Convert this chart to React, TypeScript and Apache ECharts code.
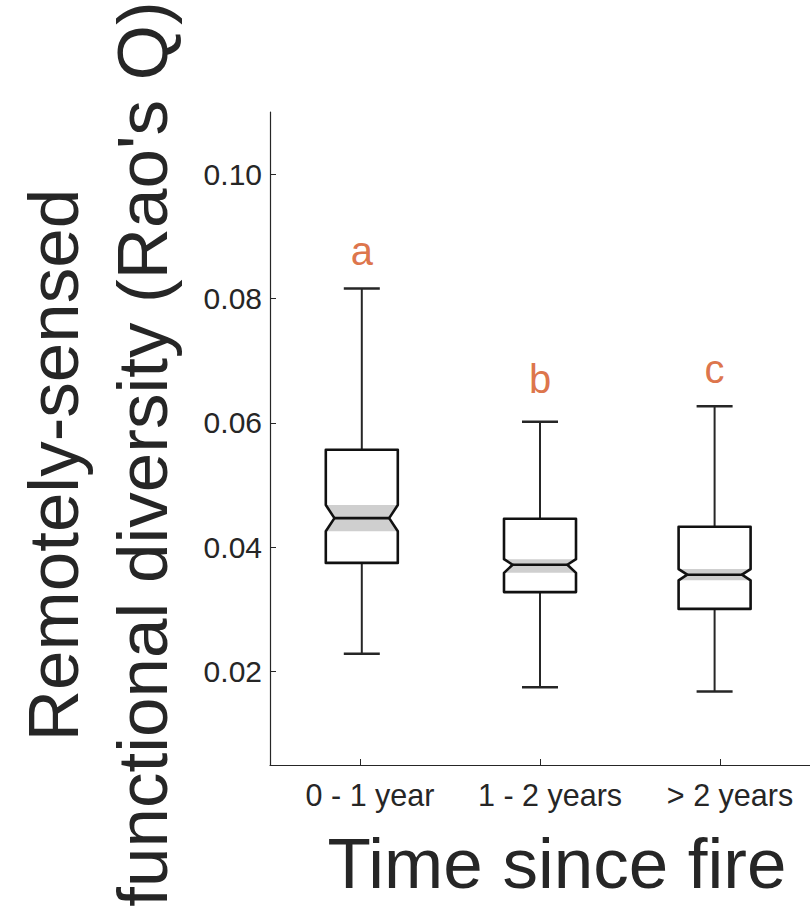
import React, { useEffect, useRef } from "react";
import * as echarts from "echarts";

const categories = ["0 - 1 year", "1 - 2 years", "> 2 years"];
const tickPositions = [1, 2, 3];
const boxPositions = [1.01, 2.0, 2.97];
const whiskerLow = [0.0229, 0.0175, 0.0168];
const q1 = [0.0375, 0.0328, 0.0301];
const notchLow = [0.0426, 0.0359, 0.0347];
const median = [0.0447, 0.0372, 0.0356];
const notchHigh = [0.0468, 0.0381, 0.0365];
const q3 = [0.0557, 0.0446, 0.0433];
const whiskerHigh = [0.0816, 0.0602, 0.0627];
const groupLetters = ["a", "b", "c"];
const letterY = [0.0877, 0.0671, 0.0687];
const yTicks = [0.02, 0.04, 0.06, 0.08, 0.1];

const FONT = '"Liberation Sans", Arial, Helvetica, sans-serif';
const INK = "#262626";

export default function App() {
  const ref = useRef<HTMLDivElement>(null);

  useEffect(() => {
    if (!ref.current) return;
    const chart = echarts.init(ref.current, null, { renderer: "svg" });

    const boxData = boxPositions.map((p, i) => [
      p,
      whiskerLow[i],
      q1[i],
      notchLow[i],
      median[i],
      notchHigh[i],
      q3[i],
      whiskerHigh[i],
    ]);
    const letterData = boxPositions.map((p, i) => [p, letterY[i], groupLetters[i]]);

    const halfW = 0.2;
    const notchIn = 0.048;
    const capW = 0.1;

    const renderItem = (params: any, api: any) => {
      const x = api.value(0);
      const wl = api.value(1);
      const b1 = api.value(2);
      const nl = api.value(3);
      const md = api.value(4);
      const nh = api.value(5);
      const b3 = api.value(6);
      const wh = api.value(7);
      const c = (xx: number, yy: number) => api.coord([xx, yy]);
      const L = x - halfW;
      const R = x + halfW;
      const Li = x - halfW + notchIn;
      const Ri = x + halfW - notchIn;
      const outline = [
        c(L, b3), c(R, b3), c(R, nh), c(Ri, md), c(R, nl), c(R, b1),
        c(L, b1), c(L, nl), c(Li, md), c(L, nh),
      ];
      const notch = [c(L, nh), c(R, nh), c(Ri, md), c(R, nl), c(L, nl), c(Li, md)];
      const lineStyle = { stroke: INK, lineWidth: 2, fill: "none" };
      const p = (a: number[], b: number[]) => ({ x1: a[0], y1: a[1], x2: b[0], y2: b[1] });
      return {
        type: "group",
        children: [
          { type: "line", shape: p(c(x, b3), c(x, wh)), style: lineStyle },
          { type: "line", shape: p(c(x, b1), c(x, wl)), style: lineStyle },
          { type: "line", shape: p(c(x - capW, wh), c(x + capW, wh)), style: { ...lineStyle, lineWidth: 2.5 } },
          { type: "line", shape: p(c(x - capW, wl), c(x + capW, wl)), style: { ...lineStyle, lineWidth: 2.5 } },
          { type: "polygon", shape: { points: outline }, style: { fill: "#ffffff", stroke: "none" } },
          { type: "polygon", shape: { points: notch }, style: { fill: "#cfcfcf", stroke: "none" } },
          { type: "line", shape: p(c(Li, md), c(Ri, md)), style: { stroke: "#111111", lineWidth: 2.6 } },
          { type: "polygon", shape: { points: outline }, style: { fill: "none", stroke: "#111111", lineWidth: 2.6, lineJoin: "round" } },
        ],
      };
    };

    chart.setOption({
      animation: false,
      backgroundColor: "#ffffff",
      grid: { left: 270, right: 0, top: 112, bottom: 145 },
      xAxis: {
        type: "value",
        min: 0.5,
        max: 3.5,
        axisLine: { show: true, onZero: false, lineStyle: { color: INK, width: 1.2 } },
        axisTick: { show: true, inside: true, length: 6, customValues: tickPositions, lineStyle: { color: INK } },
        splitLine: { show: false },
        axisLabel: {
          customValues: tickPositions,
          formatter: (v: number) => categories[Math.round(v) - 1] ?? "",
          fontSize: 30.5,
          fontFamily: FONT,
          color: INK,
          margin: 14,
          padding: [0, 0, 0, 20],
        },
      },
      yAxis: {
        type: "value",
        min: 0.005,
        max: 0.11,
        axisLine: { show: true, onZero: false, lineStyle: { color: INK, width: 1.2 } },
        axisTick: { show: true, inside: true, length: 6, customValues: yTicks, lineStyle: { color: INK } },
        splitLine: { show: false },
        axisLabel: {
          customValues: yTicks,
          formatter: (v: number) => v.toFixed(2),
          fontSize: 30,
          fontFamily: FONT,
          color: INK,
          margin: 8,
        },
      },
      graphic: [
        {
          type: "text",
          x: 557,
          y: 863,
          style: {
            text: "Time since fire",
            font: `71px ${FONT}`,
            fill: INK,
            textAlign: "center",
            textVerticalAlign: "middle",
          },
        },
        {
          type: "text",
          x: 53,
          y: 465,
          rotation: Math.PI / 2,
          style: {
            text: "Remotely-sensed",
            font: `71px ${FONT}`,
            fill: INK,
            textAlign: "center",
            textVerticalAlign: "middle",
          },
        },
        {
          type: "text",
          x: 142,
          y: 454,
          rotation: Math.PI / 2,
          style: {
            text: "functional diversity (Rao's Q)",
            font: `71px ${FONT}`,
            fill: INK,
            textAlign: "center",
            textVerticalAlign: "middle",
          },
        },
      ],
      series: [
        {
          type: "custom",
          renderItem,
          data: boxData,
          encode: { x: 0, y: [1, 2, 3, 4, 5, 6, 7] },
          clip: false,
          z: 2,
        },
        {
          type: "scatter",
          data: letterData,
          symbolSize: 1,
          itemStyle: { color: "rgba(0,0,0,0)" },
          label: {
            show: true,
            position: "inside",
            formatter: (p: any) => p.value[2],
            fontSize: 40,
            fontFamily: FONT,
            color: "#d4501a",
          },
          z: 3,
        },
      ],
    });

    return () => chart.dispose();
  }, []);

  return (
    <div
      ref={ref}
      style={{ position: "fixed", left: 0, top: 0, width: 810, height: 910, background: "#fff" }}
    />
  );
}
